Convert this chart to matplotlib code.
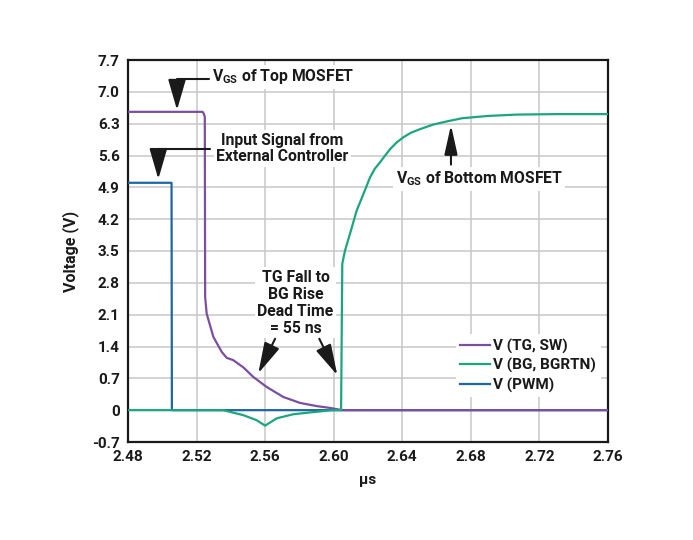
import matplotlib
matplotlib.use("Agg")
import matplotlib.pyplot as plt

plt.rcParams['font.family'] = ['Roboto', 'DejaVu Sans']
plt.rcParams['font.weight'] = 'bold'

# ---- data ----
tg_t = [2.48, 2.5235, 2.5242, 2.5248, 2.5250, 2.5259, 2.5298, 2.5347, 2.5376, 2.5414,
        2.5473, 2.5531, 2.5609, 2.5706, 2.5803, 2.5900, 2.5978, 2.6050, 2.76]
tg_v = [6.56, 6.56, 6.52, 6.45, 2.49, 2.12, 1.61, 1.28, 1.15, 1.10,
        0.94, 0.73, 0.51, 0.29, 0.16, 0.09, 0.05, 0.0, 0.0]

bg_t = [2.48, 2.5356, 2.5473, 2.5550, 2.5600, 2.5667, 2.5764, 2.5862, 2.5940, 2.5990,
        2.6043, 2.6050, 2.6066, 2.6095, 2.6134, 2.6173, 2.6212, 2.6240, 2.6270, 2.6300,
        2.6329, 2.6365, 2.6406, 2.6450, 2.6504, 2.6580, 2.6660, 2.6750, 2.6900,
        2.7070, 2.7300, 2.7600]
bg_v = [0.0, 0.0, -0.11, -0.22, -0.34, -0.18, -0.09, -0.05, -0.02, 0.0,
        0.0, 3.22, 3.51, 3.88, 4.39, 4.75, 5.12, 5.31, 5.45, 5.60,
        5.74, 5.88, 6.00, 6.10, 6.18, 6.28, 6.35, 6.42, 6.47,
        6.50, 6.51, 6.51]

pwm_t = [2.48, 2.5054, 2.5056, 2.76]
pwm_v = [5.0, 5.0, 0.0, 0.0]

series_labels = ["V (TG, SW)", "V (BG, BGRTN)", "V (PWM)"]
series_colors = ["#7B4FA0", "#1BA67F", "#1E67A0"]

x_ticks = [2.48, 2.52, 2.56, 2.60, 2.64, 2.68, 2.72, 2.76]
x_ticklabels = ["2.48", "2.52", "2.56", "2.60", "2.64", "2.68", "2.72", "2.76"]
y_ticks = [-0.7, 0, 0.7, 1.4, 2.1, 2.8, 3.5, 4.2, 4.9, 5.6, 6.3, 7.0, 7.7]
y_ticklabels = ["-0.7", "0", "0.7", "1.4", "2.1", "2.8", "3.5", "4.2", "4.9", "5.6", "6.3", "7.0", "7.7"]

x_label = "µs"
y_label = "Voltage (V)"

# ---- figure ----
fig = plt.figure(figsize=(6.93, 5.40), dpi=100)
ax = fig.add_axes([128/693, 1-442/540, 480/693, 382/540])

ax.plot(pwm_t, pwm_v, color=series_colors[2], lw=1.6, label=series_labels[2], zorder=3)
ax.plot(tg_t, tg_v, color=series_colors[0], lw=1.6, label=series_labels[0], zorder=4)
ax.plot(bg_t, bg_v, color=series_colors[1], lw=1.6, label=series_labels[1], zorder=5)

ax.set_xlim(2.48, 2.76)
ax.set_ylim(-0.7, 7.7)
ax.set_xticks(x_ticks)
ax.set_xticklabels(x_ticklabels)
ax.set_yticks(y_ticks)
ax.set_yticklabels(y_ticklabels)
ax.tick_params(length=0, labelsize=11, colors="#1a1a1a", pad=6)
ax.grid(True, color="#c8c8c8", lw=1.1, zorder=0)
ax.set_axisbelow(True)
for s in ax.spines.values():
    s.set_linewidth(1.6)
    s.set_color("#1a1a1a")

ax.set_xlabel(x_label, fontsize=11, fontweight='bold', color="#1a1a1a", labelpad=6)
ax.set_ylabel(y_label, fontsize=11.5, fontweight='bold', color="#1a1a1a", labelpad=9)

handles, labels = ax.get_legend_handles_labels()
order = [1, 2, 0]
leg = ax.legend([handles[i] for i in order], [labels[i] for i in order],
                loc="center right", bbox_to_anchor=(0.985, 0.20),
                fontsize=11, frameon=True, facecolor="white", edgecolor="none",
                framealpha=1, fancybox=False, handlelength=1.9, handletextpad=0.25,
                labelspacing=0.3, borderpad=0.3, borderaxespad=0)
leg.set_zorder(6)
for t in leg.get_texts():
    t.set_color("#1a1a1a")

box = dict(facecolor="white", edgecolor="none", pad=2)
txt_kw = dict(fontsize=11.3, fontweight='bold', color="#1a1a1a", zorder=7)

def arrow(tip, start, conn="arc3", hl=1.9, hw=0.55):
    ax.annotate("", xy=tip, xytext=start,
                arrowprops=dict(arrowstyle=f"-|>,head_length={hl},head_width={hw}",
                                color="#1a1a1a", lw=1.5, shrinkA=0, shrinkB=0,
                                connectionstyle=conn, mutation_scale=10),
                zorder=7)

# V_GS of Top MOSFET
ax.text(2.5290, 7.33, r"V$_\mathregular{GS}$ of Top MOSFET", ha="left", va="center", bbox=box, **txt_kw)
arrow((2.5086, 6.60), (2.5275, 7.29), conn="angle,angleA=0,angleB=90,rad=0")

# Input signal
ax.text(2.5701, 5.75, "Input Signal from\nExternal Controller", ha="center", va="center",
        linespacing=1.1, bbox=box, **txt_kw)
arrow((2.4977, 5.08), (2.5280, 5.75), conn="angle,angleA=0,angleB=90,rad=0")

# V_GS of Bottom MOSFET
ax.text(2.6848, 5.09, r"V$_\mathregular{GS}$ of Bottom MOSFET", ha="center", va="center", bbox=box, **txt_kw)
arrow((2.6684, 6.27), (2.6684, 5.40), hl=1.8, hw=0.4)

# Dead time
ax.text(2.5777, 2.36, "TG Fall to\nBG Rise\nDead Time\n= 55 ns", ha="center", va="center",
        linespacing=1.15, bbox=box, **txt_kw)
arrow((2.5560, 0.81), (2.5658, 1.57), hl=1.9, hw=0.5)
arrow((2.6021, 0.77), (2.5916, 1.57), hl=1.9, hw=0.5)

fig.savefig("out.png", dpi=100)
